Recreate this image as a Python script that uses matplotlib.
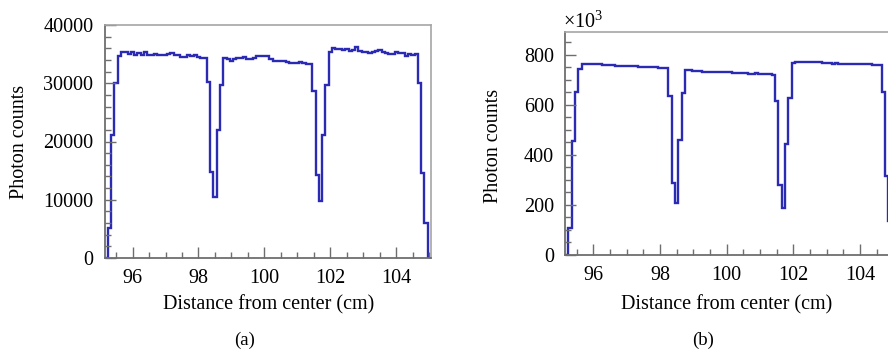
import matplotlib
matplotlib.use("Agg")
import matplotlib.pyplot as plt
import numpy as np
from matplotlib.ticker import MultipleLocator

plt.rcParams["font.family"] = ["Liberation Serif", "DejaVu Serif"]
plt.rcParams["mathtext.fontset"] = "custom"
plt.rcParams["mathtext.rm"] = "Liberation Serif"

# Histogram binning (cm): 99 bins of 0.1 cm
hist_low = 95.15
hist_high = 105.05

# (a) photon counts per bin
counts_a = [
    0, 5200, 21100, 30100,
    34700, 35450, 35300, 35100, 35300, 34900, 35200, 34800, 35400, 34800,
    34900, 35100, 34800, 34900, 34900, 35000, 35200, 34900, 34800, 34450,
    34500, 34800, 34600, 34900, 34500, 34300, 34300,
    30300, 14800, 10500, 22000, 29700,
    34300, 34150, 33900, 34150, 34300, 34300, 34500, 34150, 34200, 34300,
    34600, 34700, 34750, 34600, 34200, 33900, 33850, 33800, 33750, 33620,
    33500, 33400, 33450, 33620, 33450, 33340, 33280,
    28600, 14200, 9800, 21200, 29700,
    35400, 36040, 35920, 35900, 35750, 35800, 35600, 35750, 36200, 35460,
    35350, 35400, 35200, 35300, 35460, 35630, 35350, 35175, 35100, 35060,
    35290, 35250, 35175, 34720, 35060, 34890, 35000,
    30100, 14600, 6000, 0,
]

# (b) photon counts per bin, in units of 10^3
counts_b_k = [
    0, 107, 456, 651, 743,
    764, 765, 764, 763, 762, 762, 761, 760, 760, 759, 757, 755, 757, 755,
    757, 754, 755, 753, 752, 751, 751, 750, 750, 749, 748, 748,
    636, 289, 209, 460, 649,
    738, 740, 737, 735, 734, 733, 732, 732, 731, 731, 731, 730, 730, 730,
    728, 728, 727, 726, 726, 725, 725, 726, 724, 723, 722, 722, 720,
    616, 280, 187, 442, 627,
    767, 773, 773, 772, 771, 771, 771, 770, 770, 768, 768, 766, 765, 766,
    764, 765, 764, 763, 763, 763, 763, 763, 762, 762, 761, 761, 761,
    653, 316, 136, 0,
]

y_ticks_a = [0, 10000, 20000, 30000, 40000]
y_ticks_b = [0, 200, 400, 600, 800]
x_ticks = [96, 98, 100, 102, 104]

line_color = "#2a2ab4"
axis_color = "#6e6e6e"
frame_color = "#a6a6a6"
fs = 14.5

W, H = 888, 349
fig = plt.figure(figsize=(W / 100, H / 100), dpi=100)


def px_axes(left, top, right, bottom):
    return fig.add_axes([left / W, 1 - bottom / H, (right - left) / W, (bottom - top) / H])


def style(ax, ymax, yminor):
    edges = np.linspace(hist_low, hist_high, len(counts_a) + 1)
    ax.set_xlim(hist_low, hist_high)
    ax.set_ylim(0, ymax)
    ax.xaxis.set_major_locator(plt.FixedLocator(x_ticks))
    ax.xaxis.set_minor_locator(MultipleLocator(0.5))
    ax.yaxis.set_minor_locator(MultipleLocator(yminor))
    for side in ("left", "bottom"):
        ax.spines[side].set_color(axis_color)
        ax.spines[side].set_linewidth(1.3)
    for side in ("top", "right"):
        ax.spines[side].set_color(frame_color)
        ax.spines[side].set_linewidth(1.2)
    ax.tick_params(which="both", direction="in", top=False, right=False,
                   color=axis_color, labelsize=fs, width=1.0)
    ax.tick_params(which="major", length=8)
    ax.tick_params(which="minor", length=4)
    ax.tick_params(axis="y", pad=8)
    ax.tick_params(axis="x", pad=8)
    return edges


# (a)
ax1 = px_axes(104.5, 25, 431, 258)
edges = style(ax1, 40000, 2000)
ax1.stairs(counts_a, edges, color=line_color, linewidth=1.7, baseline=0)
ax1.set_yticks(y_ticks_a)
ax1.set_xlabel("Distance from center (cm)", fontsize=fs)
ax1.set_ylabel("Photon counts", fontsize=fs)
ax1.yaxis.set_label_coords(-0.232, 0.5)
ax1.xaxis.set_label_coords(0.502, -0.16)

# (b)
ax2 = px_axes(565, 31.7, 565 + 9.9 * 33.34, 255)
edges = style(ax2, 893, 50)
ax2.stairs(counts_b_k, edges, color=line_color, linewidth=1.7, baseline=0)
ax2.set_yticks(y_ticks_b)
ax2.set_xlabel("Distance from center (cm)", fontsize=fs)
ax2.set_ylabel("Photon counts", fontsize=fs)
ax2.yaxis.set_label_coords(-0.188, 0.49)
ax2.xaxis.set_label_coords(0.49, -0.178)

fig.text(563 / W, 1 - 28 / H, r"$\times10^{3}$", fontsize=fs, ha="left", va="baseline")

fig.text(245 / W, 1 - 340 / H, "(a)", fontsize=13.5, ha="center", va="center")
fig.text(703 / W, 1 - 340 / H, "(b)", fontsize=13.5, ha="center", va="center")

fig.savefig("out.png", dpi=100)
